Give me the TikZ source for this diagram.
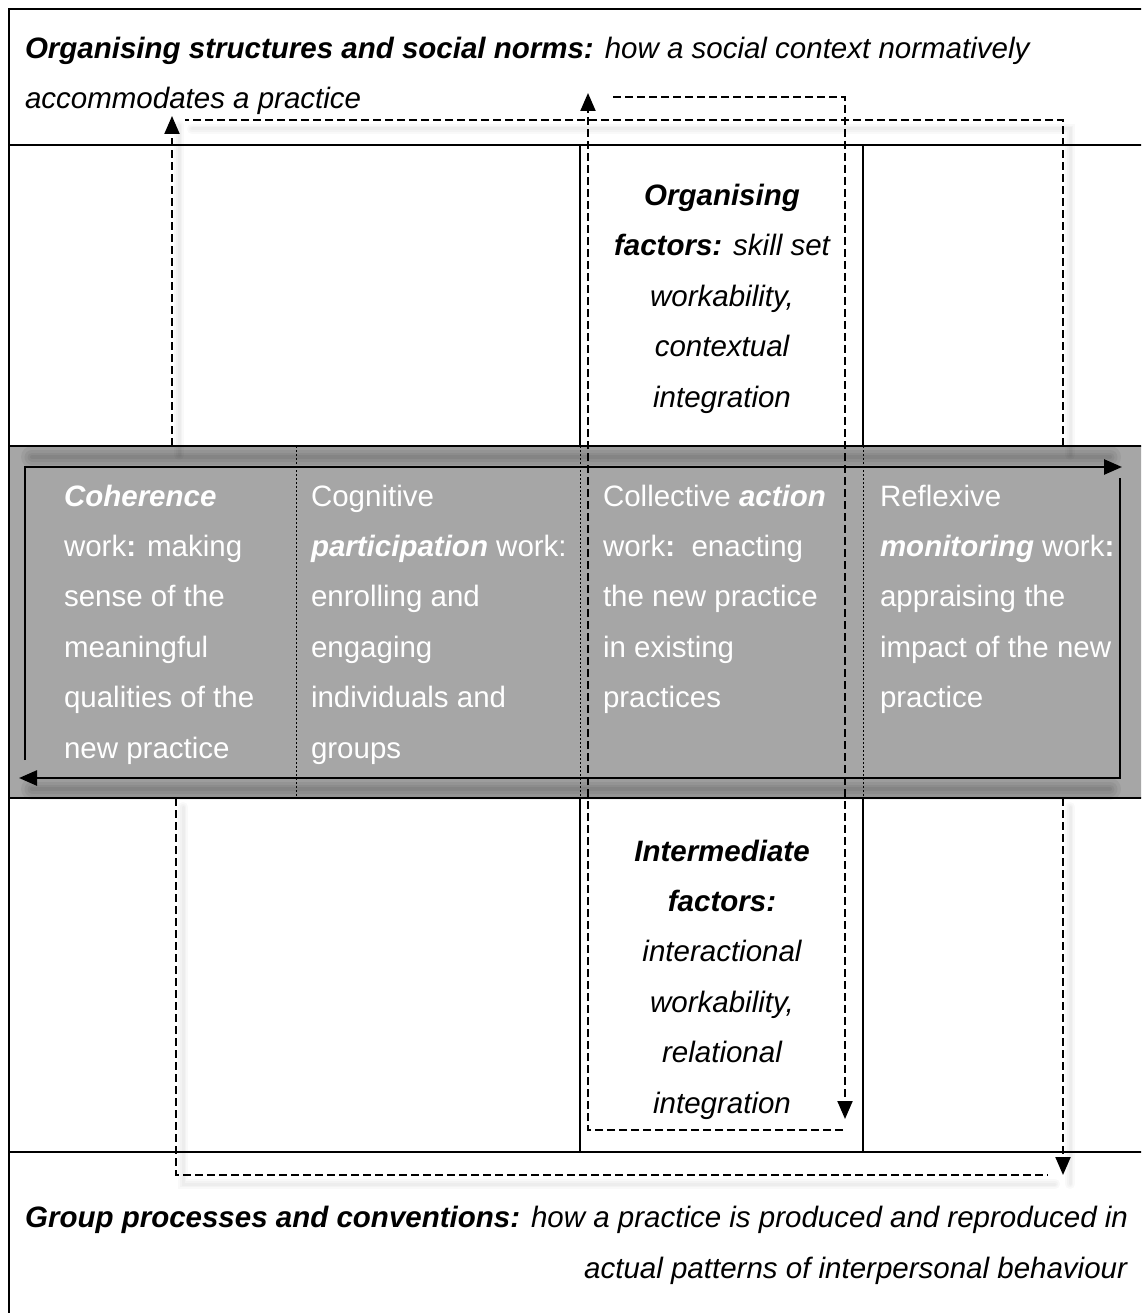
\documentclass[tikz,border=0pt]{standalone}
\usepackage{fontspec}
\setmainfont{Liberation Sans}
\usetikzlibrary{arrows.meta}
\definecolor{band}{HTML}{A6A6A6}
\newcommand\bfit[1]{{\bfseries\itshape #1}}
\tikzset{
  every node/.style={inner sep=0pt, outer sep=0pt},
  txt/.style={font=\fontsize{29.5}{50.4}\selectfont, align=left, anchor=base west},
  ctxt/.style={font=\fontsize{29.5}{50.4}\selectfont\itshape, align=center, anchor=base},
  rtxt/.style={font=\fontsize{29.5}{50.4}\selectfont, align=right, anchor=base east},
  rule/.style={line width=2.5pt},
  colrule/.style={line width=1.5pt},
  dots/.style={line width=1pt, dash pattern=on 2pt off 2pt},
  flow/.style={line width=2pt, dash pattern=on 8pt off 4pt},
  tip/.style={-{Triangle[length=18pt,width=15pt]}},
  loopline/.style={line width=2.5pt},
  softshadow/.style={line width=#1, black, opacity=0.05, line cap=round},
  faintshadow/.style={line width=#1, black, opacity=0.025, line cap=round},
}
\begin{document}
\begin{tikzpicture}[x=1pt,y=-1pt]
\useasboundingbox (0,0) rectangle (1141,1313);
\clip (0,0) rectangle (1141,1313);
\fill[white] (0,0) rectangle (1141,1313);

% grey band holding the four kinds of work
\fill[band] (9,446) rectangle (1150,798);
\foreach \w in {22pt,15pt,9pt,4pt} {
  \draw[softshadow=\w] (32,457) -- (1110,457);
  \draw[softshadow=\w] (32,789) -- (1110,789);
}

% table rules
\draw[rule] (9,1330) -- (9,9) -- (1150,9);
\draw[rule] (9,145) -- (1150,145);
\draw[rule] (9,446) -- (1150,446);
\draw[rule] (9,798) -- (1150,798);
\draw[rule] (9,1152) -- (1150,1152);
\draw[colrule] (580,145) -- (580,446);
\draw[colrule] (863,145) -- (863,446);
\draw[colrule] (580,798) -- (580,1152);
\draw[colrule] (863,798) -- (863,1152);
\draw[dots] (296,446) -- (296,798);
\draw[dots] (580,446) -- (580,798);
\draw[dots] (863,446) -- (863,798);

% connector end points
\coordinate (oTL)   at (172,446);
\coordinate (oTLup) at (172,116);
\coordinate (oTR)   at (1063,446);
\coordinate (oTRc)  at (1063,120);
\coordinate (oTLs)  at (185,120);
\coordinate (iB)    at (843,1130);
\coordinate (iBL)   at (588,1130);
\coordinate (iLup)  at (588,93);
\coordinate (iT)    at (613,97);
\coordinate (iTR)   at (845,97);
\coordinate (iRdn)  at (845,1119);
\coordinate (oBL)   at (176,798);
\coordinate (oBLc)  at (176,1175);
\coordinate (oBR)   at (1048,1175);
\coordinate (oR)    at (1063,798);
\coordinate (oRdn)  at (1063,1175);

% faint drop shadows of the outer dashed connectors
\begin{scope}[transform canvas={shift={(7pt,-9pt)}}]
  \foreach \w in {10pt,6pt,3pt} {
    \draw[faintshadow=\w] (oTL) -- (oTLup);
    \draw[faintshadow=\w] (oTR) -- (oTRc) -- (oTLs);
    \draw[faintshadow=\w] (oBL) -- (oBLc) -- (oBR);
    \draw[faintshadow=\w] (oR) -- (oRdn);
  }
\end{scope}

% dashed connectors
\draw[flow,tip] (oTL) -- (oTLup);
\draw[flow] (oTR) -- (oTRc) -- (oTLs);
\draw[flow,tip] (iB) -- (iBL) -- (iLup);
\draw[flow,tip] (iT) -- (iTR) -- (iRdn);
\draw[flow] (oBL) -- (oBLc) -- (oBR);
\draw[flow,tip] (oR) -- (oRdn);

% solid loop through the band
\coordinate (cA) at (25,760);
\coordinate (cB) at (25,467);
\coordinate (cC) at (1122,467);
\coordinate (cD) at (1120,478);
\coordinate (cE) at (1120,778);
\coordinate (cF) at (19,778);
\draw[loopline,tip] (cA) -- (cB) -- (cC);
\draw[loopline,tip] (cD) -- (cE) -- (cF);

% texts (each node is placed by the baseline of its last line)
\node[txt] (norms) at (25,109)
  {\bfit{Organising structures and social norms:} \textit{how a social context normatively}\\
   \textit{accommodates a practice}};

\node[txt,text=white] (coh) at (64,758)
  {\bfit{Coherence}\\work\textbf{:} making\\sense of the\\meaningful\\qualities of the\\new practice};
\node[txt,text=white] (cog) at (311,758)
  {Cognitive\\\bfit{participation} work:\\enrolling and\\engaging\\individuals and\\groups};
\node[txt,text=white] (col) at (603,707.6)
  {Collective \bfit{action}\\work\textbf{:}\ \ enacting\\the new practice\\in existing\\practices};
\node[txt,text=white] (ref) at (880,707.6)
  {Reflexive\\\bfit{monitoring} work\textbf{:}\\appraising the\\impact of the new\\practice};

\node[ctxt] (orgf) at (722,407)
  {\bfit{Organising}\\\bfit{factors:} skill set\\workability,\\contextual\\integration};
\node[ctxt] (intf) at (722,1113)
  {\bfit{Intermediate}\\\bfit{factors:}\\interactional\\workability,\\relational\\integration};

\node[rtxt] (group) at (1128,1278)
  {\bfit{Group processes and conventions:} \textit{how a practice is produced and reproduced in}\\
   \textit{actual patterns of interpersonal behaviour}};
\end{tikzpicture}
\end{document}
